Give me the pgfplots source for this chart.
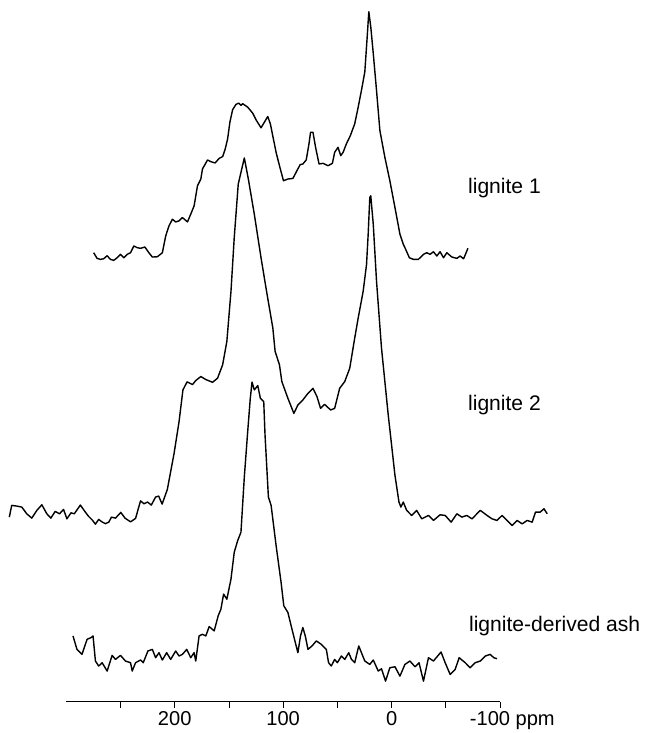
\documentclass[border=0pt]{standalone}
\usepackage{fontspec}
\setmainfont{Liberation Sans}
\usepackage{pgfplots}
\pgfplotsset{compat=1.18}

% three 13C spectra, offsets (y in plot units)
\pgfplotstableread{
x y
274.7 447.3
271.6 441.7
268.5 440.7
265.5 441.3
262.3 444.3
259.3 440.7
256.2 439.7
253.1 442.3
250.0 445.7
246.9 442.3
243.8 445.7
240.7 447.3
237.7 454.0
234.5 452.3
231.5 451.7
227.5 453.0
223.8 447.3
220.6 443.0
216.0 443.3
211.4 447.3
208.3 464.0
205.3 474.0
202.1 480.7
199.1 478.0
196.0 479.0
192.9 482.3
188.2 478.0
185.2 485.7
182.1 494.0
179.0 514.0
175.9 520.7
174.4 530.7
169.7 539.7
166.7 538.0
162.7 536.7
159.0 541.3
155.8 543.0
153.4 550.7
151.2 560.7
149.1 577.3
146.6 589.7
143.5 595.0
141.0 596.3
138.9 594.0
137.3 595.7
132.7 592.3
128.1 586.3
125.0 579.7
120.4 571.7
117.3 577.3
114.2 583.0
111.8 575.7
106.5 547.3
103.4 534.0
99.7 519.0
95.6 520.7
91.0 521.3
87.3 529.0
84.3 535.0
81.8 535.7
78.7 539.7
76.2 555.7
74.7 567.3
72.5 567.3
70.1 552.3
66.9 535.7
63.2 536.3
58.6 534.0
54.6 536.3
52.5 547.3
49.4 552.3
46.9 544.0
44.7 547.3
41.7 555.7
38.0 564.0
34.0 575.7
30.8 592.3
27.8 609.0
24.7 627.3
22.5 662.3
21.0 687.3
19.2 672.3
16.9 645.7
13.9 609.0
10.8 569.0
6.2 542.3
1.6 519.0
-3.1 492.3
-7.7 465.7
-10.8 455.7
-12.3 452.3
-16.4 442.3
-20.1 440.7
-24.7 440.7
-29.4 445.7
-32.4 447.3
-35.5 445.7
-38.6 448.3
-41.7 444.0
-44.7 448.3
-47.9 442.3
-50.9 447.3
-55.6 443.0
-60.2 441.7
-63.2 444.0
-66.4 441.3
-70.4 451.7
}\ligniteone

\pgfplotstableread{
x y
352.5 184.0
350.3 195.7
345.6 195.0
341.0 194.0
336.4 187.3
331.8 183.0
327.1 190.7
322.5 196.3
317.9 187.3
314.2 183.0
310.2 189.7
306.2 187.3
302.5 191.7
299.4 182.3
295.6 188.3
292.6 187.3
287.0 196.0
282.4 189.0
279.6 185.0
275.9 181.0
273.1 177.0
270.1 181.7
266.7 179.0
263.9 177.5
260.8 179.0
258.3 184.0
254.6 183.0
249.7 188.7
245.8 183.0
240.7 179.3
236.1 182.7
231.5 200.2
228.4 197.3
225.0 199.0
221.6 196.0
217.6 204.0
214.8 205.0
211.6 197.0
206.8 211.5
200.6 247.3
196.0 279.0
192.4 310.7
188.6 318.7
183.6 316.0
180.6 320.0
175.9 324.0
171.3 321.0
165.1 318.3
160.5 322.3
155.8 335.7
151.9 359.0
148.1 409.0
145.1 462.3
141.4 515.7
135.8 541.7
132.1 520.7
126.6 485.7
120.4 442.3
114.8 405.7
109.5 372.3
107.4 349.0
103.4 335.7
101.2 319.0
95.6 302.3
90.1 287.3
86.4 295.7
81.8 300.7
77.1 307.3
72.5 312.3
68.8 304.0
65.5 292.3
61.8 296.3
56.2 290.7
52.5 292.3
47.9 312.3
43.2 319.0
38.6 332.3
34.0 362.3
30.8 382.3
26.2 409.0
23.1 435.7
21.6 465.7
20.1 502.3
19.2 504.0
16.9 475.7
13.9 419.0
9.3 352.3
3.1 285.7
-3.1 225.7
-6.8 199.0
-8.6 194.0
-10.8 199.0
-13.9 190.7
-18.5 185.7
-23.1 190.7
-27.8 182.3
-34.0 185.7
-38.6 180.7
-44.7 186.3
-49.4 185.7
-54.9 179.0
-60.2 187.3
-64.8 184.0
-69.4 185.7
-74.1 182.3
-81.8 190.7
-88.0 185.7
-92.6 182.3
-97.2 180.7
-101.9 185.7
-108.1 179.0
-111.1 175.7
-115.7 180.7
-120.4 177.3
-125.0 180.7
-129.6 179.0
-132.7 189.0
-137.0 189.0
-140.5 192.3
-143.5 187.3
}\lignitetwo

\pgfplotstableread{
x y
293.8 65.7
290.1 52.3
285.5 47.3
280.8 62.3
277.1 64.0
275.3 65.7
273.1 40.7
270.1 35.7
266.9 39.0
262.3 30.7
257.7 46.3
254.6 42.3
250.0 46.3
245.4 40.7
240.7 39.0
239.2 30.7
236.1 39.0
231.5 41.7
229.0 39.0
224.7 50.7
220.6 52.3
217.6 44.0
214.5 49.0
211.4 41.7
207.4 49.0
203.7 42.3
199.1 50.7
196.0 45.7
192.9 47.3
188.9 52.3
185.2 44.0
182.1 49.0
180.6 40.7
177.5 65.7
174.4 67.3
171.3 65.7
168.2 75.0
163.6 70.7
159.9 85.7
157.4 92.3
154.9 107.3
151.9 102.3
148.1 122.3
145.1 149.0
141.9 160.7
138.9 169.0
135.8 224.0
132.7 269.0
130.3 302.3
128.7 318.5
126.6 310.7
123.4 315.0
121.0 302.3
117.9 299.0
116.7 265.7
113.6 204.0
111.1 195.7
106.5 155.7
101.9 119.0
99.4 95.7
95.6 89.0
92.6 75.7
89.5 62.3
86.4 49.0
84.0 65.7
81.8 74.0
79.6 65.7
77.1 52.3
73.4 55.7
69.4 60.7
64.8 57.3
60.2 52.3
58.1 39.0
55.6 35.7
52.5 42.3
50.0 39.0
46.3 45.7
43.2 42.3
39.5 49.0
37.0 42.3
34.0 39.0
30.3 55.7
27.8 49.0
24.7 40.7
20.1 37.3
16.9 41.7
12.3 30.7
9.3 33.0
5.6 20.7
1.6 34.0
-3.1 35.0
-7.7 25.7
-12.3 37.3
-16.9 40.7
-21.6 35.0
-25.3 39.0
-29.4 20.7
-34.0 44.0
-38.6 40.7
-45.6 49.7
-49.4 39.0
-54.0 27.3
-58.6 32.3
-62.3 44.0
-67.9 39.0
-72.5 34.0
-77.1 39.0
-81.8 40.7
-86.4 45.7
-91.0 47.3
-94.2 44.0
-97.2 43.0
}\ashtrace

\begin{document}
\begin{tikzpicture}
\begin{axis}[
    scale only axis,
    width=432pt, height=699pt,
    xmin=-100, xmax=300, ymin=0, ymax=699,
    x dir=reverse,
    clip=false,
    axis x line=bottom, axis y line=none,
    axis line style={line width=0.8pt, -},
    xtick={250,200,150,100,50,0,-50,-100},
    xticklabels={,200,,100,,0,,\hspace*{-20pt}-100\rlap{ ppm}},
    ytick=\empty,
    tick align=outside,
    major tick length=6pt,
    tick style={line width=0.8pt, black},
    ticklabel style={font=\fontsize{20}{24}\selectfont},
  ]
  \addplot[black, line width=1.4pt, no markers, line join=round] table {\ligniteone};
  \addplot[black, line width=1.4pt, no markers, line join=round] table {\lignitetwo};
  \addplot[black, line width=1.4pt, no markers, line join=round] table {\ashtrace};

  \node[anchor=base west, inner sep=0pt, font=\fontsize{21}{25}\selectfont] at (axis cs:-70.4,506) {lignite 1};
  \node[anchor=base west, inner sep=0pt, font=\fontsize{21}{25}\selectfont] at (axis cs:-70.4,290) {lignite 2};
  \node[anchor=base west, inner sep=0pt, font=\fontsize{21}{25}\selectfont] at (axis cs:-71.3,70) {lignite-derived ash};
  % keep the white margins of the original figure
  \path (axis cs:361.1,699) (axis cs:-236.1,699);
\end{axis}
\end{tikzpicture}
\end{document}
